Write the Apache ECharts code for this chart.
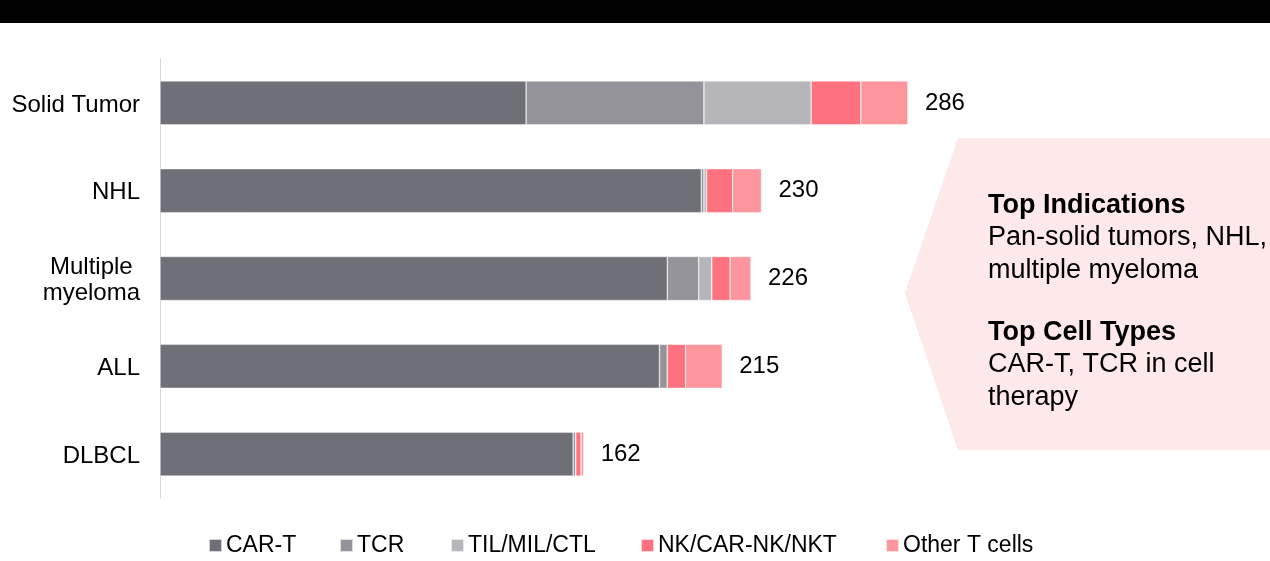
<!DOCTYPE html>
<html>
<head>
<meta charset="utf-8">
<script src="https://cdn.jsdelivr.net/npm/echarts@6/dist/echarts.min.js"></script>
<style>
  html, body { margin: 0; padding: 0; background: #fff; }
  #main { width: 1270px; height: 561px; }
</style>
</head>
<body>
<div id="main"></div>
<script>
var myChart = echarts.init(document.getElementById('main'));

// categories, top to bottom
var categories = ['Solid Tumor', 'NHL', 'Multiple\nmyeloma', 'ALL', 'DLBCL'];
var seriesNames = ['CAR-T', 'TCR', 'TIL/MIL/CTL', 'NK/CAR-NK/NKT', 'Other T cells'];
// values
var carT = [140, 207, 194, 191, 158];
var tcr = [68, 1, 12, 3, 1];
var til = [41, 1, 5, 0, 0];
var nk = [19, 10, 7, 7, 2];
var otherT = [18, 11, 8, 14, 1];
var totals = [286, 230, 226, 215, 162];

var colors = ['#6f6f78', '#949399', '#b6b5ba', '#fe717f', '#fd959c'];
var legendLeft = [208, 339, 450, 640, 885];
var font = '"Liberation Sans", Arial, sans-serif';

var values = [carT, tcr, til, nk, otherT];
var series = values.map(function (data, i) {
    var s = {
        name: seriesNames[i],
        type: 'bar',
        stack: 'total',
        barWidth: 44,
        itemStyle: {
            color: colors[i],
            borderColor: 'rgba(255,255,255,0.7)',
            borderWidth: 0.6
        },
        emphasis: { disabled: true },
        data: data
    };
    if (i === values.length - 1) {
        // total at the end of each bar
        s.label = {
            show: true,
            position: 'right',
            distance: 17,
            color: '#000',
            fontSize: 24,
            fontFamily: font,
            padding: [3, 0, 0, 0],
            formatter: function (p) { return totals[p.dataIndex]; }
        };
    }
    return s;
});

// one legend per item, they are not evenly spaced
var legends = seriesNames.map(function (name, i) {
    return {
        data: [name],
        left: legendLeft[i],
        top: 534,
        padding: 0,
        icon: 'rect',
        itemWidth: 13,
        itemHeight: 13,
        selectedMode: false,
        textStyle: { color: '#000', fontSize: 23, fontFamily: font, padding: [0, 0, 0, -1] }
    };
});

option = {
    backgroundColor: '#fff',
    animation: false,
    textStyle: { fontFamily: font },
    grid: {
        left: 160,
        top: 59,
        width: 1046,
        height: 439
    },
    xAxis: {
        type: 'value',
        min: 0,
        max: 400,
        show: false
    },
    yAxis: {
        type: 'category',
        inverse: true,
        data: categories,
        axisLine: { show: true, lineStyle: { color: '#d9d9d9', width: 1 } },
        axisTick: { show: false },
        axisLabel: {
            margin: 20,
            color: '#000',
            formatter: function (v) {
                return v.split('\n').map(function (s) { return '{c|' + s + '}'; }).join('\n');
            },
            rich: {
                c: { fontSize: 24, lineHeight: 26, align: 'center', color: '#000', fontFamily: font, padding: [4, 0, 0, 0] }
            }
        }
    },
    legend: legends,
    graphic: [
        {   // black band at the top
            type: 'rect',
            left: 0,
            top: 0,
            shape: { width: 1270, height: 23 },
            style: { fill: '#000' }
        },
        {   // pink callout
            type: 'polygon',
            shape: { points: [[958, 138], [1270, 138], [1270, 450], [958, 450], [905, 293]] },
            style: { fill: '#fde8ea' }
        },
        {
            type: 'text',
            left: 988,
            top: 192,
            style: {
                text: '{b|Top Indications}\n{n|Pan-solid tumors, NHL,}\n{n|multiple myeloma}\n{s|}\n{b|Top Cell Types}\n{n|CAR-T, TCR in cell}\n{n|therapy}',
                rich: {
                    b: { fontSize: 27, fontWeight: 'bold', lineHeight: 32.5, fill: '#000', fontFamily: font },
                    n: { fontSize: 27, lineHeight: 32.5, fill: '#000', fontFamily: font },
                    s: { fontSize: 12, lineHeight: 29.5 }
                }
            }
        }
    ],
    series: series
};
myChart.setOption(option);
</script>
</body>
</html>
